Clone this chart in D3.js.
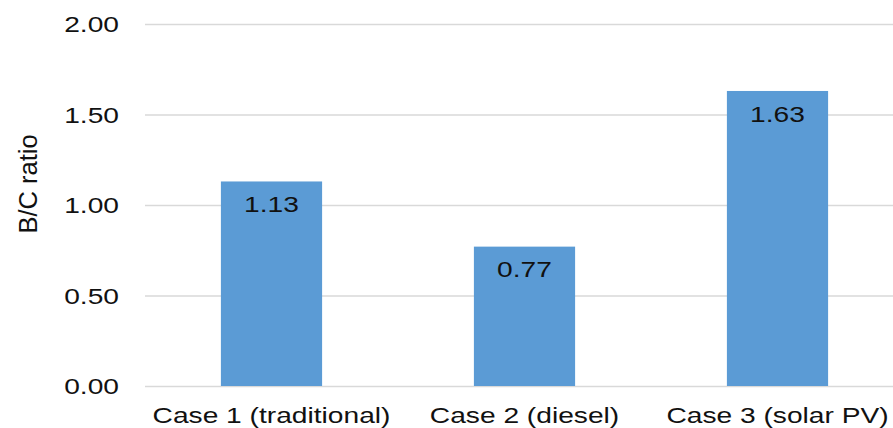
<!DOCTYPE html>
<html>
<head>
<meta charset="utf-8">
<script src="https://cdn.jsdelivr.net/npm/d3@7"></script>
<style>
  html, body { margin: 0; padding: 0; background: #fff; }
  svg { display: block; font-family: "Liberation Sans", Arial, sans-serif; }
</style>
</head>
<body>
<svg id="chart" width="893" height="428"></svg>
<script>
// Benefit/cost ratio per case
const categories = ["Case 1 (traditional)", "Case 2 (diesel)", "Case 3 (solar PV)"];
const ratios = [1.13, 0.77, 1.63];
const yTicks = [0, 0.5, 1.0, 1.5, 2.0];
const yTitle = "B/C ratio";

const W = 893, H = 428;
const plotLeft = 145, plotRight = 904, plotTop = 24, plotBottom = 386;
const stretch = 1.31; // wide text face

const svg = d3.select("#chart");

const x = d3.scaleBand().domain(categories).range([plotLeft, plotRight]).paddingInner(0.6).paddingOuter(0.3);
const y = d3.scaleLinear().domain([0, 2]).range([plotBottom, plotTop]);

// gridlines + y tick labels
const yAxis = svg.append("g")
  .attr("transform", `translate(${plotLeft},0)`)
  .call(d3.axisLeft(y).tickValues(yTicks).tickFormat(d3.format(".2f")).tickSize(-(W - plotLeft + 20)).tickPadding(0));
yAxis.select(".domain").remove();
yAxis.selectAll(".tick line").attr("stroke", "#d9d9d9").attr("stroke-width", 1.5);
yAxis.selectAll(".tick text")
  .attr("x", 0).attr("dy", "0.35em")
  .attr("text-anchor", "end")
  .attr("transform", `translate(-26,0) scale(${stretch},1)`)
  .attr("fill", "#111")
  .style("font-size", "21.5px");

// bars
svg.append("g").selectAll("rect")
  .data(ratios)
  .join("rect")
  .attr("x", (d, i) => x(categories[i]))
  .attr("y", d => y(d))
  .attr("width", x.bandwidth())
  .attr("height", d => y(0) - y(d))
  .attr("fill", "#5b9bd5");

// value labels inside the bar tops
svg.append("g").selectAll("text")
  .data(ratios)
  .join("text")
  .attr("transform", (d, i) => `translate(${x(categories[i]) + x.bandwidth() / 2},${y(d) + 23}) scale(${stretch},1)`)
  .attr("dy", "0.35em")
  .attr("text-anchor", "middle")
  .attr("fill", "#111")
  .style("font-size", "21.5px")
  .text(d => d.toFixed(2));

// category axis
const xAxis = svg.append("g")
  .attr("transform", `translate(0,${plotBottom})`)
  .call(d3.axisBottom(x).tickSize(0).tickPadding(0));
xAxis.select(".domain").remove();
xAxis.selectAll(".tick text")
  .attr("y", 0).attr("dy", 0)
  .attr("text-anchor", "middle")
  .attr("transform", `translate(0,37) scale(${stretch},1)`)
  .attr("fill", "#111")
  .style("font-size", "21.5px");

// y axis title
svg.append("text")
  .attr("transform", `translate(37,184) rotate(-90)`)
  .attr("text-anchor", "middle")
  .attr("fill", "#111")
  .style("font-size", "25.5px")
  .text(yTitle);
</script>
</body>
</html>
